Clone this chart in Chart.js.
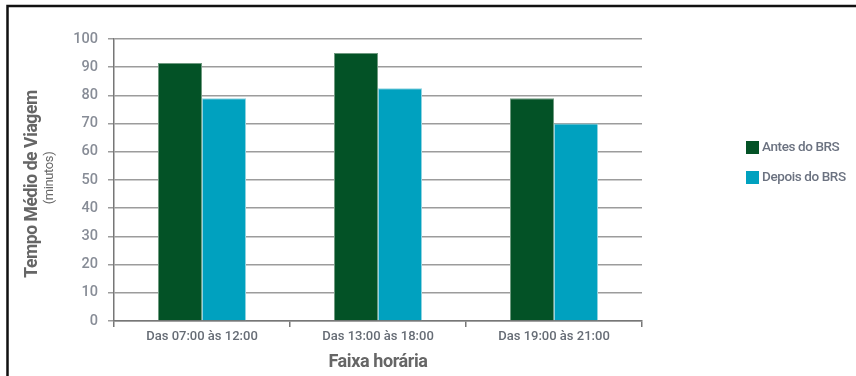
<!DOCTYPE html>
<html>
<head>
<meta charset="utf-8">
<script src="https://cdn.jsdelivr.net/npm/chart.js@4/dist/chart.umd.min.js"></script>
<style>
  html, body { margin: 0; padding: 0; background: #fff; }
  #wrap { position: relative; width: 856px; height: 376px; }
</style>
</head>
<body>
<div id="wrap"><canvas id="c" width="856" height="376"></canvas></div>
<script>
// Faixas horárias e tempos médios de viagem (minutos)
const categories = ['Das 07:00 às 12:00', 'Das 13:00 às 18:00', 'Das 19:00 às 21:00'];
const antesDoBRS = [91.5, 95, 79];
const depoisDoBRS = [79, 82.5, 70];
const seriesNames = ['Antes do BRS', 'Depois do BRS'];
const yTicks = [0, 10, 20, 30, 40, 50, 60, 70, 80, 90, 100];

const FONT = 'Roboto, "Open Sans", sans-serif';
const GREEN = '#035226';
const TEAL = '#00a1bf';

// Moldura, títulos dos eixos e legenda desenhados à mão
const decor = {
  id: 'decor',
  afterDraw(chart) {
    const ctx = chart.ctx;
    const area = chart.chartArea;
    ctx.save();

    // moldura
    ctx.strokeStyle = '#111';
    ctx.lineWidth = 2.5;
    ctx.beginPath();
    ctx.moveTo(7.5, 380);
    ctx.lineTo(7.5, 6);
    ctx.lineTo(860, 6);
    ctx.stroke();

    ctx.letterSpacing = '-0.4px';

    // título do eixo Y
    ctx.save();
    ctx.translate(33, 184);
    ctx.rotate(-Math.PI / 2);
    ctx.textAlign = 'center';
    ctx.textBaseline = 'middle';
    ctx.fillStyle = '#666';
    ctx.font = 'bold 17.5px ' + FONT;
    ctx.fillText('Tempo Médio de Viagem', 0, 0);
    ctx.font = '13px ' + FONT;
    ctx.fillText('(minutos)', 6, 17);
    ctx.restore();

    // título do eixo X
    ctx.textAlign = 'center';
    ctx.textBaseline = 'middle';
    ctx.fillStyle = '#666';
    ctx.font = 'bold 18px ' + FONT;
    ctx.fillText('Faixa horária', (area.left + area.right) / 2, 362);

    // legenda
    ctx.textAlign = 'left';
    ctx.font = '500 13.5px ' + FONT;
    chart.data.datasets.forEach((ds, i) => {
      const y = 141 + i * 30;
      ctx.fillStyle = ds.backgroundColor;
      ctx.fillRect(746, y, 13, 13);
      ctx.fillStyle = '#6b7280';
      ctx.fillText(ds.label, 762, y + 7);
    });
    ctx.restore();
  }
};

new Chart(document.getElementById('c'), {
  type: 'bar',
  data: {
    labels: categories,
    datasets: [
      { label: seriesNames[0], data: antesDoBRS, backgroundColor: GREEN, borderColor: '#6f9a80', borderWidth: 1 },
      { label: seriesNames[1], data: depoisDoBRS, backgroundColor: TEAL, borderColor: '#8fd3e0', borderWidth: 1 }
    ]
  },
  options: {
    responsive: false,
    animation: false,
    events: [],
    layout: { padding: { top: 39, right: 214, left: 0, bottom: 0 } },
    datasets: { bar: { categoryPercentage: 0.5, barPercentage: 1.0 } },
    plugins: { legend: { display: false }, tooltip: { enabled: false }, title: { display: false } },
    scales: {
      x: {
        afterFit(scale) { scale.height = 55; },
        grid: { display: true, drawOnChartArea: false, offset: true, color: '#777', lineWidth: 1.5, tickLength: 6 },
        border: { display: true, color: '#777', width: 1.5 },
        ticks: { color: '#666c75', font: { family: FONT, size: 13, weight: '500' }, padding: 2 }
      },
      y: {
        min: 0, max: 100,
        afterFit(scale) { scale.width = 114; },
        afterBuildTicks(scale) { scale.ticks = yTicks.map(v => ({ value: v })); },
        grid: { color: '#9c9c9c', lineWidth: 1.5, tickLength: 6 },
        border: { display: true, color: '#777', width: 1.5 },
        ticks: { color: '#878c96', font: { family: FONT, size: 14.5, weight: '500' }, padding: 10 }
      }
    }
  },
  plugins: [decor]
});
</script>
</body>
</html>
